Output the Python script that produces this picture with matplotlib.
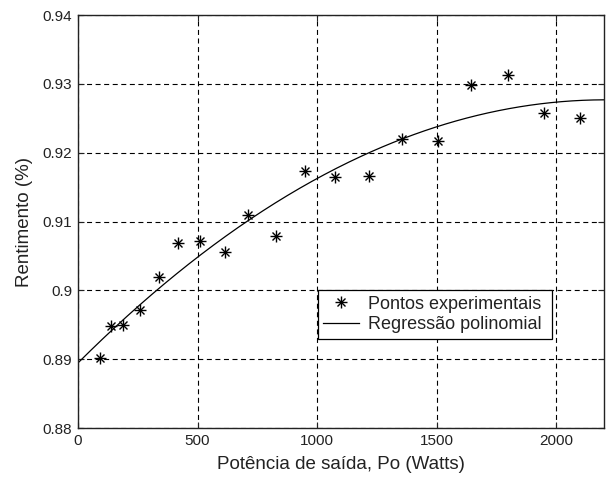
import numpy as np
import matplotlib
matplotlib.use("Agg")
import matplotlib.pyplot as plt
from matplotlib.legend_handler import HandlerTuple

plt.rcParams['font.family'] = ['Liberation Sans', 'DejaVu Sans']

potencia = [90, 138, 188, 259, 338, 417, 509, 613, 709, 828, 950, 1074,
            1219, 1354, 1506, 1645, 1797, 1948, 2099]
rendimento = [0.8902, 0.8948, 0.8949, 0.8972, 0.9020, 0.9069, 0.9072, 0.9056,
              0.9109, 0.9079, 0.9174, 0.9165, 0.9166, 0.9220, 0.9217, 0.9298,
              0.9313, 0.9257, 0.9250]

x_ticks = [0, 500, 1000, 1500, 2000]
y_ticks = [0.88, 0.89, 0.90, 0.91, 0.92, 0.93, 0.94]
y_labels = ['0.88', '0.89', '0.9', '0.91', '0.92', '0.93', '0.94']

coef = np.polyfit(potencia, rendimento, 2)
xc = np.linspace(0, 2200, 300)
yc = np.polyval(coef, xc)

fig = plt.figure(figsize=(6.07, 4.78), dpi=100)
ax = fig.add_axes([0.1285, 0.1046, 0.8665, 0.864])

h_plus, = ax.plot(potencia, rendimento, linestyle='none', marker='+', color='black',
                  markersize=9, markeredgewidth=1.0)
h_x, = ax.plot(potencia, rendimento, linestyle='none', marker='x', color='black',
               markersize=6, markeredgewidth=1.0)
h_line, = ax.plot(xc, yc, color='black', linewidth=0.9)

ax.set_xlim(0, 2200)
ax.set_ylim(0.88, 0.94)
ax.set_xticks(x_ticks)
ax.set_yticks(y_ticks)
ax.set_yticklabels(y_labels)
ax.tick_params(direction='in', length=4, labelsize=11, colors='#222222',
               top=True, right=True, pad=4)
ax.grid(True, color='black', linestyle=(0, (4.5, 3.2)), linewidth=0.8)
for s in ax.spines.values():
    s.set_linewidth(1.0)
    s.set_color('#222222')

ax.set_xlabel('Potência de saída, Po (Watts)', fontsize=13.5, labelpad=6, color='#222222')
ax.set_ylabel('Rentimento (%)', fontsize=13.5, labelpad=7, color='#222222')

leg = ax.legend([(h_plus, h_x), h_line],
                ['Pontos experimentais', 'Regressão polinomial'],
                handler_map={tuple: HandlerTuple(ndivide=1)},
                loc='upper left', bbox_to_anchor=(0.456, 0.2183, 0.446, 0.115),
                mode='expand', borderaxespad=0, fancybox=False, fontsize=13,
                framealpha=1, edgecolor='black', handlelength=2.0,
                handletextpad=0.5, borderpad=0.3, labelspacing=0.2)
leg.get_frame().set_linewidth(0.9)
for t in leg.get_texts():
    t.set_color('#222222')

fig.savefig('out.png', dpi=100)
